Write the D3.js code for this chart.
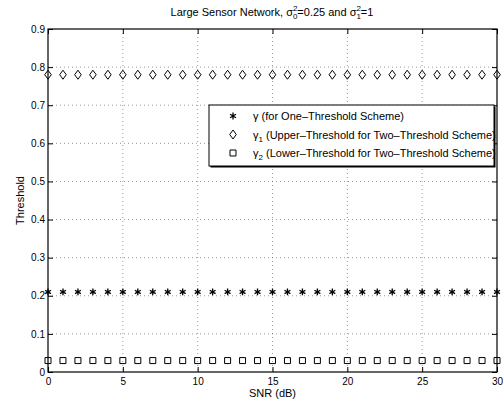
<!DOCTYPE html>
<html>
<head>
<meta charset="utf-8">
<script src="https://cdn.jsdelivr.net/npm/d3@7"></script>
<style>
  body { margin: 0; background: #fff; }
  text { font-family: "Liberation Sans", Arial, sans-serif; }
</style>
</head>
<body>
<div id="chart"></div>
<script>
// data
let snr = [0, 1, 2, 3, 4, 5, 6, 7, 8, 9, 10, 11, 12, 13, 14, 15, 16, 17, 18, 19, 20, 21, 22, 23, 24, 25, 26, 27, 28, 29, 30];
let gammaOne = [0.21, 0.21, 0.21, 0.21, 0.21, 0.21, 0.21, 0.21, 0.21, 0.21, 0.21, 0.21, 0.21, 0.21, 0.21, 0.21,
    0.21, 0.21, 0.21, 0.21, 0.21, 0.21, 0.21, 0.21, 0.21, 0.21, 0.21, 0.21, 0.21, 0.21, 0.21];
let gammaUpper = [0.78, 0.78, 0.78, 0.78, 0.78, 0.78, 0.78, 0.78, 0.78, 0.78, 0.78, 0.78, 0.78, 0.78, 0.78, 0.78,
    0.78, 0.78, 0.78, 0.78, 0.78, 0.78, 0.78, 0.78, 0.78, 0.78, 0.78, 0.78, 0.78, 0.78, 0.78];
let gammaLower = [0.03, 0.03, 0.03, 0.03, 0.03, 0.03, 0.03, 0.03, 0.03, 0.03, 0.03, 0.03, 0.03, 0.03, 0.03, 0.03,
    0.03, 0.03, 0.03, 0.03, 0.03, 0.03, 0.03, 0.03, 0.03, 0.03, 0.03, 0.03, 0.03, 0.03, 0.03];
let xTicks = [0, 5, 10, 15, 20, 25, 30];
let yTicks = [0, 0.1, 0.2, 0.3, 0.4, 0.5, 0.6, 0.7, 0.8, 0.9];

let width = 503, height = 402;
let margin = {top: 29, right: 6, bottom: 30, left: 48};
let w = width - margin.left - margin.right;
let h = height - margin.top - margin.bottom;

let svg = d3.select("#chart").append("svg")
    .attr("width", width)
    .attr("height", height);

let g = svg.append("g")
    .attr("transform", `translate(${margin.left},${margin.top})`);

let x = d3.scaleLinear().domain([0, 30]).range([0, w]);
let y = d3.scaleLinear().domain([0, 0.9]).range([h, 0]);

// dotted grid
g.append("g").selectAll("line")
    .data(xTicks.slice(1, -1))
    .enter().append("line")
    .attr("x1", d => x(d)).attr("x2", d => x(d))
    .attr("y1", 0).attr("y2", h)
    .attr("stroke", "#555").attr("stroke-width", 0.6)
    .attr("stroke-dasharray", "1,3");

g.append("g").selectAll("line")
    .data(yTicks.slice(1, -1))
    .enter().append("line")
    .attr("x1", 0).attr("x2", w)
    .attr("y1", d => y(d)).attr("y2", d => y(d))
    .attr("stroke", "#555").attr("stroke-width", 0.6)
    .attr("stroke-dasharray", "1,3");

// axes, ticks pointing inward like matlab
let xAxis = g.append("g").attr("transform", `translate(0,${h})`)
    .call(d3.axisBottom(x).tickValues(xTicks).tickSize(-5).tickPadding(6).tickFormat(d3.format("")));
let xTop = g.append("g")
    .call(d3.axisTop(x).tickValues(xTicks).tickSize(-5).tickFormat(""));
let yAxis = g.append("g")
    .call(d3.axisLeft(y).tickValues(yTicks).tickSize(-5).tickPadding(3).tickFormat(d => d === 0 ? "0" : d3.format(".1f")(d)));
let yRight = g.append("g").attr("transform", `translate(${w},0)`)
    .call(d3.axisRight(y).tickValues(yTicks).tickSize(-5).tickFormat(""));

[xAxis, xTop, yAxis, yRight].forEach(a => {
    a.select(".domain").remove();
    a.selectAll("line").attr("stroke", "#000");
    a.selectAll("text").attr("font-size", 10).attr("fill", "#000")
        .style("font-family", "'Liberation Sans', Arial, sans-serif");
});

g.append("rect")
    .attr("width", w).attr("height", h)
    .attr("fill", "none").attr("stroke", "#000").attr("stroke-width", 1.2);

// markers
let starSym = d3.symbol().type(d3.symbolAsterisk).size(32);
let diamondPath = "M0,-4.5L3.3,0L0,4.5L-3.3,0Z";
let squarePath = "M-3,-3H3V3H-3Z";

function styleMarker(sel, kind) {
    if (kind === "star") {
        sel.attr("d", starSym).attr("fill", "none").attr("stroke", "#000").attr("stroke-width", 1.3);
    } else {
        sel.attr("d", kind === "diamond" ? diamondPath : squarePath)
            .attr("fill", "none").attr("stroke", "#000").attr("stroke-width", 1);
    }
}

function drawSeries(vals, kind) {
    let s = g.append("g").selectAll("path")
        .data(snr.map((d, i) => [d, vals[i]]))
        .enter().append("path")
        .attr("transform", d => `translate(${x(d[0])},${y(d[1])})`);
    styleMarker(s, kind);
}
drawSeries(gammaOne, "star");
drawSeries(gammaUpper, "diamond");
drawSeries(gammaLower, "square");

// title
let title = svg.append("text")
    .attr("x", 272).attr("y", 16)
    .attr("text-anchor", "middle")
    .attr("font-size", 11);
title.append("tspan").text("Large Sensor Network, \u03c3");
title.append("tspan").attr("font-size", 8).attr("dy", -5).text("2");
title.append("tspan").attr("font-size", 8).attr("dx", -4.5).attr("dy", 8).text("0");
title.append("tspan").attr("dy", -3).text("=0.25 and \u03c3");
title.append("tspan").attr("font-size", 8).attr("dy", -5).text("2");
title.append("tspan").attr("font-size", 8).attr("dx", -4.5).attr("dy", 8).text("1");
title.append("tspan").attr("dy", -3).text("=1");

// axis labels
svg.append("text")
    .attr("x", margin.left + w / 2).attr("y", 397)
    .attr("text-anchor", "middle").attr("font-size", 11)
    .text("SNR (dB)");
svg.append("text")
    .attr("transform", `translate(24,${margin.top + h / 2}) rotate(-90)`)
    .attr("text-anchor", "middle").attr("font-size", 11)
    .text("Threshold");

// legend
let lg = svg.append("g").attr("transform", "translate(209,105)");
lg.append("rect").attr("x", 1.5).attr("y", 1.5).attr("width", 285).attr("height", 61).attr("fill", "#000");
lg.append("rect").attr("width", 285).attr("height", 61)
    .attr("fill", "#fff").attr("stroke", "#000").attr("stroke-width", 1);

let legendRows = [
    {kind: "star", sub: null, label: " (for One\u2013Threshold Scheme)"},
    {kind: "diamond", sub: "1", label: " (Upper\u2013Threshold for Two\u2013Threshold Scheme)"},
    {kind: "square", sub: "2", label: " (Lower\u2013Threshold for Two\u2013Threshold Scheme)"}
];
legendRows.forEach((r, i) => {
    let yy = 11 + i * 18.5;
    let m = lg.append("path").attr("transform", `translate(24,${yy})`);
    styleMarker(m, r.kind);
    let t = lg.append("text").attr("x", 44).attr("y", yy + 4).attr("font-size", 11);
    t.append("tspan").text("\u03b3");
    if (r.sub) {
        t.append("tspan").attr("font-size", 8).attr("dy", 3).text(r.sub);
        t.append("tspan").attr("dy", -3).text(r.label);
    } else {
        t.append("tspan").text(r.label);
    }
});
</script>
</body>
</html>
